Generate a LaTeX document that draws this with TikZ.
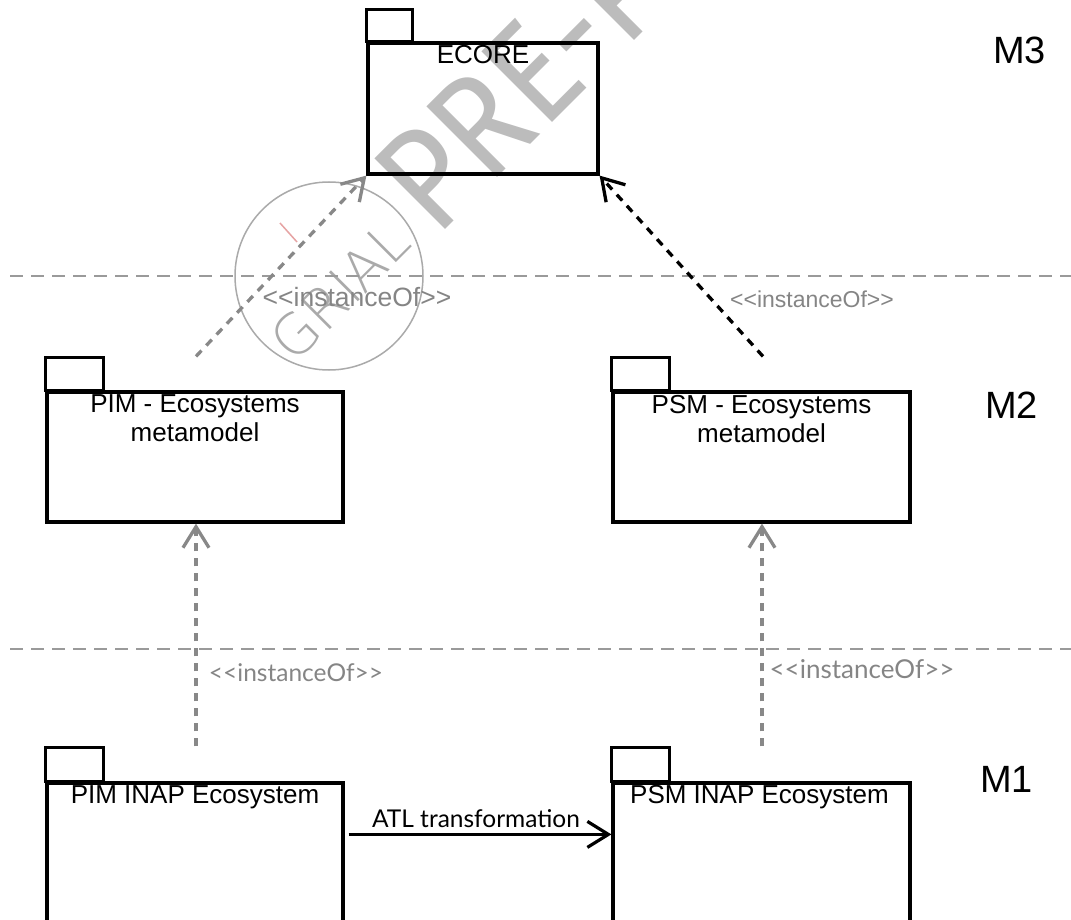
\documentclass[tikz,border=0pt]{standalone}
\usepackage{fontspec}
\setmainfont{Liberation Sans}
\newfontfamily\gillish{Lato}
\newfontfamily\stampfont{DejaVu Sans ExtraLight}
\newfontfamily\wmfont{Fira Sans}
\usetikzlibrary{arrows.meta,calc}

\definecolor{guide}{HTML}{9A9A9A}
\definecolor{relgray}{HTML}{888888}
\definecolor{lblgray}{HTML}{858585}
\definecolor{wmgray}{HTML}{BCBCBC}
\definecolor{stampgray}{HTML}{AAAAAA}
\definecolor{stamppink}{HTML}{E6A3A3}

\tikzset{
  pkg/.style={draw=black, line width=3.2pt, inner sep=0pt},
  pkgtab/.style={draw=black, line width=3.2pt},
  pkgname/.style={anchor=north, inner sep=0pt, align=center,
    font=\fontsize{26}{29}\selectfont},
  metalevel/.style={anchor=base west, inner sep=0pt,
    font=\fontsize{38}{40}\selectfont},
  guideline/.style={draw=guide, line width=2pt, dash pattern=on 13pt off 8pt},
  barb/.tip={Straight Barb[length=21pt,width=26pt]},
  instof/.style={draw=relgray, line width=3.3pt, dash pattern=on 8pt off 7pt, -barb},
  instofblack/.style={instof, draw=black},
  transf/.style={draw=black, line width=3.2pt, -barb},
  stereo/.style={text=lblgray, inner sep=0pt, anchor=base},
}

\begin{document}
\begin{tikzpicture}[x=1pt, y=-1pt]
  \clip (0,0) rectangle (1071,920);
  \fill[white] (0,0) rectangle (1071,920);

  % stamp and watermark behind the diagram
  \draw[stampgray, line width=1.5pt] (329,276) circle [radius=94pt];
  \node[rotate=45, inner sep=0pt, text=stampgray,
        font=\stampfont\fontsize{56}{56}\selectfont] (stamp) at (340,291) {GRIAL};
  \draw[stamppink, line width=1.5pt] (280,223) -- (297,242);
  \node[rotate=45, anchor=base west, inner sep=0pt, text=wmgray,
        font=\wmfont\fontsize{145}{145}\selectfont] (wm) at (436,239)
        {\scalebox{0.88}[1]{PRE-PRINT}};

  % level separators
  \coordinate (g1a) at (10,276);
  \coordinate (g1b) at (1071,276);
  \coordinate (g2a) at (10,649);
  \coordinate (g2b) at (1071,649);
  \draw[guideline] (g1a) -- (g1b);
  \draw[guideline] (g2a) -- (g2b);

  % M3
  \node[pkg, minimum width=230pt, minimum height=131pt] (ecore) at (483,108.5) {};
  \draw[pkgtab] (ecore.north west) rectangle ++(46,-32);
  \node[pkgname] (ecoreT) at ($(ecore.north)+(0,4)$) {ECORE};

  % M2
  \node[pkg, minimum width=296pt, minimum height=130pt] (pim) at (195,457) {};
  \draw[pkgtab] (pim.north west) rectangle ++(58,-33);
  \node[pkgname] (pimT) at ($(pim.north)+(0,4.5)$) {PIM - Ecosystems\\metamodel};

  \node[pkg, minimum width=297pt, minimum height=130pt] (psm) at (761.5,457) {};
  \draw[pkgtab] (psm.north west) rectangle ++(58,-33);
  \node[pkgname] (psmT) at ($(psm.north)+(0,4.5)$) {PSM - Ecosystems\\metamodel};

  % M1
  \node[pkg, minimum width=296pt, minimum height=217pt] (pimI) at (195,891.5) {};
  \draw[pkgtab] (pimI.north west) rectangle ++(58,-34);
  \node[pkgname] (pimIT) at ($(pimI.north)+(0,4)$) {PIM INAP Ecosystem};

  \node[pkg, minimum width=297pt, minimum height=217pt] (psmI) at (761.5,891.5) {};
  \draw[pkgtab] (psmI.north west) rectangle ++(58,-34);
  \node[pkgname] (psmIT) at ($(psmI.north)+(-2,4)$) {PSM INAP Ecosystem};

  % level names
  \node[metalevel] (m3) at (993,64) {M3};
  \node[metalevel] (m2) at (985,418) {M2};
  \node[metalevel] (m1) at (980,792) {M1};

  % instanceOf relations
  \coordinate (pimTop) at ($(pim.north)+(1,-34)$);
  \coordinate (psmTop) at ($(psm.north)+(1.5,-34)$);
  \coordinate (pimITop) at ($(pimI.north)+(1,-35)$);
  \coordinate (psmITop) at ($(psmI.north)+(0.5,-35)$);
  \draw[instof] (pimTop) -- (ecore.south west);
  \draw[instofblack] (psmTop) -- (ecore.south east);
  \draw[instof] (pimITop) -- (pimTop |- pim.south);
  \draw[instof] (psmITop) -- (psmITop |- psm.south);

  \node[stereo, font=\fontsize{26.5}{26.5}\selectfont] (st1) at (357,306) {<{}<instanceOf>{}>};
  \node[stereo, font=\fontsize{23}{23}\selectfont] (st2) at (812,307) {<{}<instanceOf>{}>};
  \node[stereo, font=\gillish\fontsize{24.5}{24.5}\selectfont] (st3) at (296,681) {<{}<instanceOf>{}>};
  \node[stereo, font=\gillish\fontsize{26}{26}\selectfont] (st4) at (862,678) {<{}<instanceOf>{}>};

  % model transformation
  \coordinate (atlA) at ($(pimI.north east)+(4,53)$);
  \draw[transf] (atlA) -- (atlA -| psmI.west);
  \node[stereo, text=black, font=\gillish\fontsize{24.5}{24.5}\selectfont] (atl) at (476,827) {ATL transformation};
\end{tikzpicture}
\end{document}
